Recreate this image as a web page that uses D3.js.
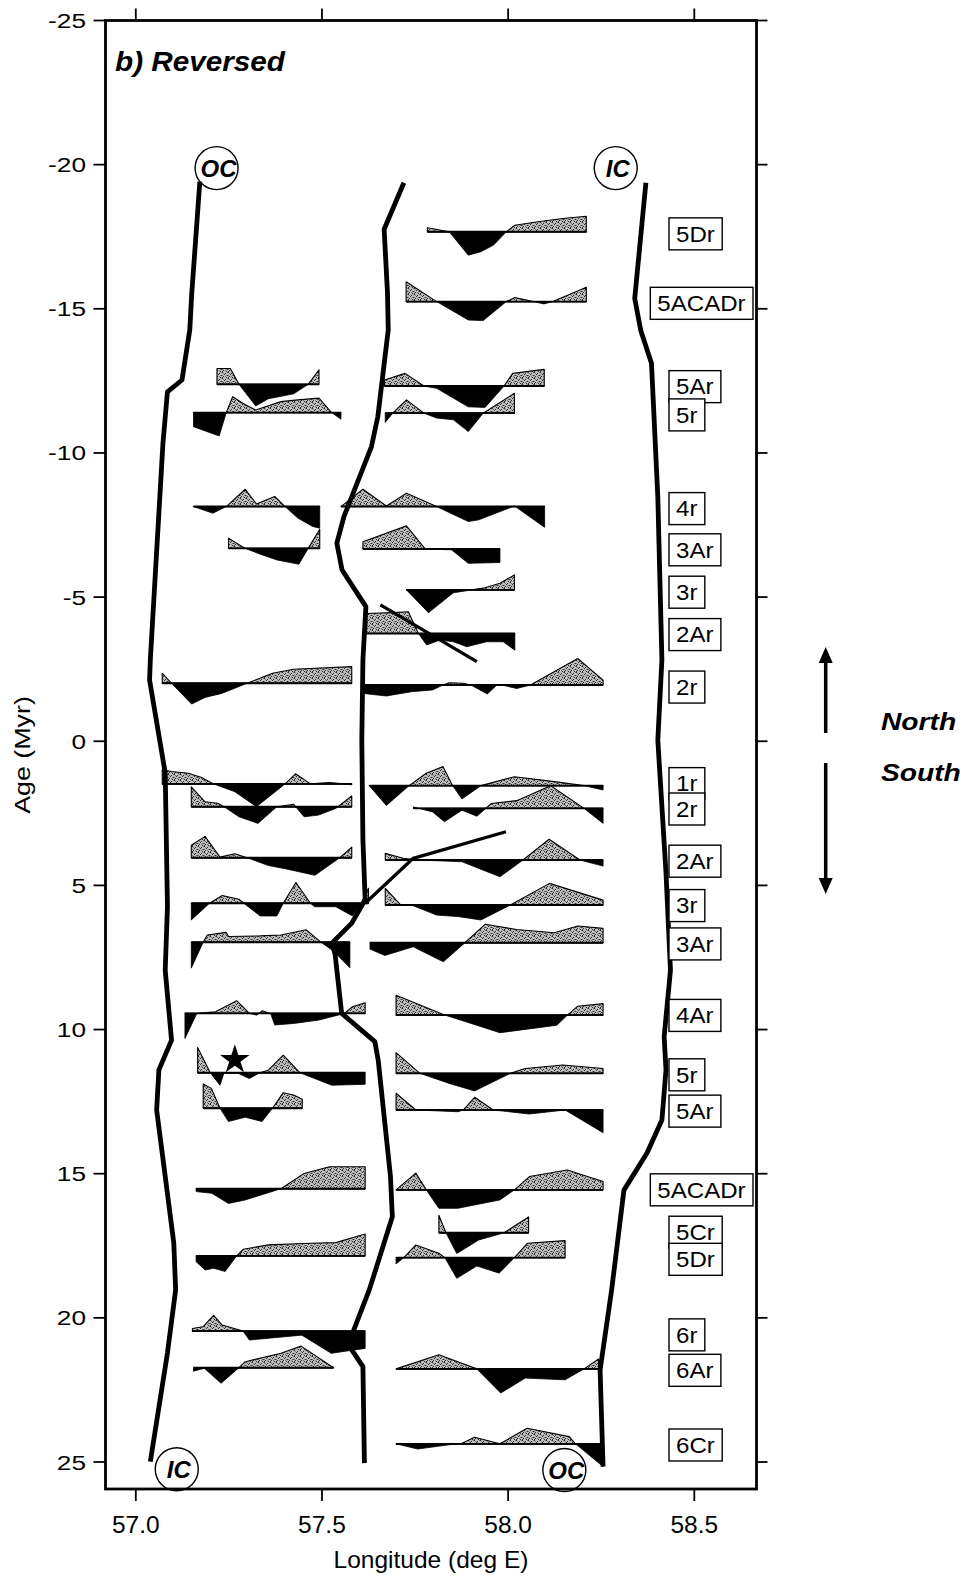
<!DOCTYPE html>
<html><head><meta charset="utf-8">
<script src="https://cdn.jsdelivr.net/npm/d3@7"></script>
<style>body{margin:0;background:#fff;} svg{display:block;}</style>
</head><body>
<svg id="chart" width="970" height="1579"></svg>
<script>
// ---------------- DATA ----------------
const xTicks = [57.0, 57.5, 58.0, 58.5];
const xTickLabels = ["57.0", "57.5", "58.0", "58.5"];
const yTicks = [-25, -20, -15, -10, -5, 0, 5, 10, 15, 20, 25];
const yTickLabels = ["-25", "-20", "-15", "-10", "-5", "0", "5", "10", "15", "20", "25"];

// thick boundary lines [lon, age]
const leftBoundary = [[57.172,-19.41],[57.150,-15.48],[57.145,-14.27],[57.124,-12.53],[57.085,-12.12],[57.073,-10.35],[57.039,-2.82],[57.037,-2.12],[57.079,1.10],[57.085,5.74],[57.079,7.94],[57.096,10.37],[57.062,11.40],[57.056,12.79],[57.102,17.40],[57.107,19.03],[57.085,21.22],[57.039,24.99]];
const middleBoundary = [[57.720,-19.37],[57.667,-17.76],[57.676,-15.54],[57.678,-14.27],[57.650,-11.26],[57.633,-10.22],[57.559,-7.79],[57.540,-6.87],[57.554,-5.94],[57.618,-4.67],[57.610,-2.82],[57.607,-0.04],[57.610,3.43],[57.616,5.50],[57.580,6.31],[57.526,7.01],[57.535,7.36],[57.553,9.44],[57.642,10.42],[57.651,11.06],[57.684,15.10],[57.689,16.49],[57.644,18.34],[57.627,19.03],[57.582,20.54],[57.580,21.11],[57.610,21.69],[57.614,25.04]];
const rightBoundary = [[58.370,-19.37],[58.340,-15.36],[58.356,-14.26],[58.385,-13.11],[58.402,-8.48],[58.413,-2.82],[58.402,-0.04],[58.424,4.57],[58.436,7.94],[58.419,10.25],[58.424,11.40],[58.413,13.14],[58.373,14.28],[58.311,15.57],[58.278,19.03],[58.247,21.81],[58.255,25.16]];
// thinner offset lines
const thinLineA = [[57.657,-4.73],[57.916,-2.76]];
const thinLineB = [[57.994,3.14],[57.745,4.06],[57.616,5.62]];

// magnetic anomaly profiles: baseline ages and [lon, amplitude(Myr units, + = up)]
const profileAges = [-17.67,-15.25,-12.38,-11.40,-12.32,-11.38,-8.14,-8.14,-6.69,-6.67,-5.25,-3.74,-2.01,-1.95,1.48,1.54,2.27,2.33,4.04,4.12,5.62,5.68,6.97,6.99,9.44,9.50,11.50,11.52,12.73,12.79,15.52,15.56,17.05,17.85,17.91,20.46,21.73,21.77,24.37];
const p01 = [[57.783,0.14],[57.842,0],[57.893,-0.81],[57.927,-0.69],[57.961,-0.46],[57.995,0],[58.018,0.23],[58.080,0.35],[58.147,0.46],[58.210,0.54]];
const p02 = [[57.726,0.69],[57.808,0],[57.893,-0.64],[57.933,-0.66],[57.995,0],[58.018,0.14],[58.046,0.06],[58.096,-0.08],[58.120,0],[58.210,0.50]];
const p03 = [[57.218,0.55],[57.254,0.55],[57.277,0],[57.322,-0.75],[57.356,-0.50],[57.424,-0.33],[57.463,0],[57.492,0.50]];
const p04 = [[57.155,-0.49],[57.224,-0.81],[57.243,0],[57.260,0.55],[57.294,0.27],[57.322,0.09],[57.390,0.38],[57.435,0.44],[57.492,0.50],[57.526,0],[57.551,-0.23]];
const p05 = [[57.668,0.21],[57.723,0.44],[57.774,0],[57.808,-0.08],[57.893,-0.72],[57.938,-0.74],[57.989,0],[58.012,0.44],[58.097,0.58]];
const p06 = [[57.670,-0.32],[57.690,0],[57.727,0.46],[57.774,0],[57.808,-0.17],[57.853,-0.23],[57.893,-0.64],[57.933,0],[58.017,0.69]];
const p07 = [[57.155,0],[57.207,-0.23],[57.243,0],[57.294,0.60],[57.324,0.09],[57.373,0.35],[57.401,0],[57.435,-0.40],[57.475,-0.69],[57.494,-0.75]];
const p08 = [[57.551,0],[57.610,0.60],[57.673,0.02],[57.727,0.46],[57.808,0],[57.893,-0.52],[57.921,-0.46],[57.989,-0.12],[58.017,0.02],[58.098,-0.72]];
const p09 = [[57.249,0.35],[57.294,0],[57.334,-0.20],[57.379,-0.40],[57.438,-0.55],[57.463,0],[57.494,0.66]];
const p10 = [[57.610,0.25],[57.727,0.80],[57.777,0],[57.848,-0.03],[57.893,-0.50],[57.978,-0.47]];
const p11 = [[57.727,0],[57.786,-0.79],[57.853,-0.10],[57.933,0.06],[57.978,0.23],[58.017,0.52]];
const p12 = [[57.620,0.69],[57.690,0.72],[57.732,0.75],[57.759,0],[57.781,-0.40],[57.817,-0.23],[57.853,-0.29],[57.889,-0.46],[57.942,-0.29],[57.987,-0.29],[58.018,-0.58]];
const p13 = [[57.071,0.35],[57.096,0],[57.150,-0.72],[57.186,-0.49],[57.231,-0.35],[57.299,0],[57.367,0.35],[57.424,0.49],[57.580,0.58]];
const p14 = [[57.610,-0.29],[57.673,-0.38],[57.741,-0.23],[57.797,-0.17],[57.825,0],[57.842,0.08],[57.880,0.06],[57.900,0],[57.944,-0.31],[57.970,0],[57.990,-0.02],[58.023,-0.12],[58.060,0],[58.187,0.92],[58.255,0.17]];
const p15 = [[57.071,0.49],[57.096,0.43],[57.141,0.37],[57.175,0.23],[57.209,0],[57.266,-0.27],[57.324,-0.79],[57.401,0],[57.429,0.35],[57.469,0],[57.520,0.05],[57.580,-0.03]];
const p16 = [[57.627,0],[57.673,-0.69],[57.734,0],[57.780,0.43],[57.825,0.66],[57.851,0],[57.876,-0.46],[57.927,0],[58.017,0.31],[58.124,0.14],[58.204,0],[58.255,-0.15]];
const p17 = [[57.149,0.69],[57.186,0.17],[57.220,0.12],[57.237,0],[57.277,-0.35],[57.328,-0.58],[57.379,0],[57.424,0.08],[57.452,-0.35],[57.491,-0.29],[57.537,-0.06],[57.580,0.37]];
const p18 = [[57.746,0.05],[57.797,-0.12],[57.829,-0.46],[57.876,-0.06],[57.916,-0.27],[57.955,0.17],[58.023,0.27],[58.114,0.79],[58.204,0],[58.255,-0.52]];
const p19 = [[57.149,0.43],[57.186,0.74],[57.226,0.02],[57.266,0.14],[57.299,0],[57.356,-0.27],[57.401,-0.38],[57.481,-0.61],[57.548,0],[57.580,0.37]];
const p20 = [[57.670,0.23],[57.718,0.06],[57.760,0],[57.876,-0.06],[57.978,-0.58],[58.040,0],[58.110,0.72],[58.193,0],[58.255,-0.21]];
const p21 = [[57.149,-0.58],[57.198,0],[57.232,0.27],[57.277,0.14],[57.290,0],[57.334,-0.44],[57.379,-0.44],[57.396,0],[57.430,0.72],[57.469,0],[57.480,-0.12],[57.537,-0.12],[57.582,-0.44],[57.605,0],[57.625,0.52]];
const p22 = [[57.670,0.58],[57.712,0],[57.740,0],[57.808,-0.35],[57.865,-0.40],[57.927,-0.52],[58.006,0],[58.111,0.75],[58.255,0.17]];
const p23 = [[57.149,-0.90],[57.181,0],[57.192,0.25],[57.243,0.34],[57.249,0.20],[57.334,0.22],[57.390,0.25],[57.458,0.43],[57.497,0],[57.530,-0.30],[57.575,-0.89]];
const p24 = [[57.629,-0.22],[57.669,-0.44],[57.745,-0.14],[57.826,-0.66],[57.884,0],[57.938,0.64],[58.023,0.46],[58.124,0.35],[58.187,0.58],[58.255,0.50]];
const p25 = [[57.132,-0.87],[57.164,0],[57.214,0.06],[57.271,0.44],[57.305,0],[57.325,-0.06],[57.339,0.09],[57.362,0],[57.373,-0.40],[57.424,-0.35],[57.492,-0.23],[57.543,-0.06],[57.560,0],[57.582,0.23],[57.616,0.37]];
const p26 = [[57.699,0.69],[57.831,0],[57.978,-0.61],[58.131,-0.35],[58.159,0],[58.187,0.31],[58.255,0.40]];
const p27 = [[57.166,0.88],[57.200,0],[57.226,-0.43],[57.237,0],[57.249,-0.02],[57.275,-0.02],[57.305,-0.20],[57.333,0],[57.356,0.09],[57.396,0.61],[57.441,0],[57.526,-0.43],[57.616,-0.40]];
const p28 = [[57.699,0.72],[57.763,0],[57.842,-0.35],[57.910,-0.61],[58.006,0],[58.046,0.17],[58.147,0.29],[58.255,0.17]];
const p29 = [[57.181,0.84],[57.203,0.69],[57.226,0],[57.249,-0.46],[57.294,-0.31],[57.339,-0.46],[57.367,0],[57.396,0.54],[57.424,0.46],[57.447,0.31]];
const p30 = [[57.699,0.58],[57.752,0],[57.865,-0.06],[57.880,0],[57.910,0.44],[57.960,0],[58.057,-0.14],[58.153,0],[58.255,-0.79]];
const p31 = [[57.162,-0.10],[57.204,-0.16],[57.249,-0.51],[57.294,-0.39],[57.390,0],[57.452,0.53],[57.520,0.76],[57.616,0.76]];
const p32 = [[57.699,0],[57.752,0.58],[57.780,0],[57.814,-0.64],[57.865,-0.64],[57.978,-0.35],[58.017,0],[58.057,0.46],[58.159,0.69],[58.255,0.29]];
const p33 = [[57.814,0.61],[57.833,0],[57.862,-0.72],[57.921,-0.25],[57.989,0],[58.055,0.55]];
const p34 = [[57.162,-0.20],[57.186,-0.49],[57.209,-0.43],[57.240,-0.54],[57.271,0],[57.289,0.23],[57.356,0.38],[57.469,0.44],[57.537,0.46],[57.616,0.76]];
const p35 = [[57.699,-0.22],[57.720,0],[57.752,0.44],[57.814,0.15],[57.830,0],[57.862,-0.72],[57.916,-0.29],[57.976,-0.54],[58.017,0],[58.052,0.50],[58.153,0.59]];
const p36 = [[57.152,0.09],[57.180,0.15],[57.209,0.55],[57.232,0.21],[57.288,0],[57.305,-0.31],[57.446,-0.14],[57.525,-0.77],[57.582,-0.66],[57.616,-0.60]];
const p37 = [[57.155,-0.12],[57.184,-0.02],[57.229,-0.54],[57.277,0],[57.294,0.21],[57.390,0.50],[57.444,0.75],[57.531,0]];
const p38 = [[57.699,0],[57.814,0.49],[57.916,0],[57.980,-0.84],[58.046,-0.32],[58.153,-0.38],[58.204,0],[58.243,0.34]];
const p39 = [[57.699,0],[57.757,-0.18],[57.860,0],[57.876,0.02],[57.910,0.23],[57.978,0],[58.051,0.54],[58.164,0.25],[58.181,0],[58.255,-0.79]];
const profilePoints = [p01,p02,p03,p04,p05,p06,p07,p08,p09,p10,p11,p12,p13,p14,p15,p16,p17,p18,p19,p20,p21,p22,p23,p24,p25,p26,p27,p28,p29,p30,p31,p32,p33,p34,p35,p36,p37,p38,p39];

// chron labels on the right
const chronLabels = ["5Dr","5ACADr","5Ar","5r","4r","3Ar","3r","2Ar","2r","1r","2r","2Ar","3r","3Ar","4Ar","5r","5Ar","5ACADr","5Cr","5Dr","6r","6Ar","6Cr"];
const chronAges = [-17.60,-15.19,-12.30,-11.32,-8.07,-6.64,-5.17,-3.70,-1.88,1.47,2.35,4.16,5.70,7.03,9.51,11.57,12.83,15.56,17.03,17.97,20.59,21.82,24.41];

// circled segment-end markers
const markerTexts = ["OC","IC","IC","OC"];
const markerLon = [57.217, 58.289, 57.110, 58.151];
const markerAge = [-19.88, -19.88, 25.25, 25.28];
const starPoint = [57.266, 11.05];

// ---------------- DRAW ----------------
const svg = d3.select("#chart");
const x = d3.scaleLinear().domain([57.0, 58.5]).range([135.8, 694.3]);
const y = d3.scaleLinear().domain([-25, 25]).range([20.5, 1462]);
const fL = 105.5, fR = 756.5, fT = 20.5, fB = 1489;
const FONT = "'Liberation Sans', Arial, Helvetica, sans-serif";

svg.append("rect").attr("width", 970).attr("height", 1579).attr("fill", "#fff");

const defs = svg.append("defs");
const pat = defs.append("pattern").attr("id", "stip").attr("patternUnits", "userSpaceOnUse").attr("width", 6).attr("height", 6);
pat.append("rect").attr("width", 6).attr("height", 6).attr("fill", "#bdbdbd");
[[0,0],[3,1],[5,3],[1,4],[4,5],[2,2],[0,5]].forEach(d => pat.append("rect").attr("x", d[0]).attr("y", d[1]).attr("width", 1).attr("height", 1).attr("fill", "#2e2e2e"));
[[1,1],[4,3],[0,3],[5,0],[3,4]].forEach(d => pat.append("rect").attr("x", d[0]).attr("y", d[1]).attr("width", 1).attr("height", 1).attr("fill", "#777"));

function stext(g, tx, ty, str, opts) {
  const sx = opts.sx || 1;
  const t = g.append("text")
    .attr("transform", `translate(${tx},${ty}) ${opts.rot ? "rotate(" + opts.rot + ")" : ""} scale(${sx},1)`)
    .attr("font-family", FONT).attr("font-size", opts.size)
    .attr("font-weight", opts.weight || "normal").attr("font-style", opts.style || "normal")
    .attr("text-anchor", opts.anchor || "start").attr("fill", "#000").text(str);
  return t;
}

// profiles
function withCrossings(pts) {
  const out = [];
  pts.forEach((p, i) => {
    if (i > 0) {
      const q = pts[i - 1];
      if ((q[1] > 0 && p[1] < 0) || (q[1] < 0 && p[1] > 0)) {
        const t = q[1] / (q[1] - p[1]);
        out.push([q[0] + t * (p[0] - q[0]), 0]);
      }
    }
    out.push(p);
  });
  return out;
}
const gProf = svg.append("g");
profilePoints.forEach((pts, i) => {
  const age = profileAges[i];
  const pp = withCrossings(pts);
  const pos = d3.area().x(d => x(d[0])).y0(y(age)).y1(d => y(age - Math.max(d[1], 0)));
  const neg = d3.area().x(d => x(d[0])).y0(y(age)).y1(d => y(age - Math.min(d[1], 0)));
  gProf.append("path").attr("d", pos(pp)).attr("fill", "url(#stip)").attr("stroke", "#000").attr("stroke-width", 1.1).attr("stroke-linejoin", "round");
  gProf.append("path").attr("d", neg(pp)).attr("fill", "#000").attr("stroke", "#000").attr("stroke-width", 0.8);
  gProf.append("line").attr("x1", x(pts[0][0])).attr("x2", x(pts[pts.length - 1][0]))
    .attr("y1", y(age)).attr("y2", y(age)).attr("stroke", "#000").attr("stroke-width", 1.9);
});

// boundary lines
const lineGen = d3.line().x(d => x(d[0])).y(d => y(d[1]));
[leftBoundary, middleBoundary, rightBoundary].forEach(l => {
  svg.append("path").attr("d", lineGen(l)).attr("fill", "none").attr("stroke", "#000")
    .attr("stroke-width", 4.8).attr("stroke-linejoin", "round");
});
[thinLineA, thinLineB].forEach(l => {
  svg.append("path").attr("d", lineGen(l)).attr("fill", "none").attr("stroke", "#000")
    .attr("stroke-width", 3.3).attr("stroke-linejoin", "round");
});

// star
const star = d3.symbol().type(d3.symbolStar).size(270);
svg.append("path").attr("d", star()).attr("transform", `translate(${x(starPoint[0])},${y(starPoint[1])})`).attr("fill", "#000");

// frame
svg.append("rect").attr("x", fL).attr("y", fT).attr("width", fR - fL).attr("height", fB - fT)
  .attr("fill", "none").attr("stroke", "#000").attr("stroke-width", 2.8);

// ticks
const gAx = svg.append("g").attr("stroke", "#000").attr("stroke-width", 1.8);
xTicks.forEach(v => {
  gAx.append("line").attr("x1", x(v)).attr("x2", x(v)).attr("y1", fT).attr("y2", fT - 12);
  gAx.append("line").attr("x1", x(v)).attr("x2", x(v)).attr("y1", fB).attr("y2", fB + 12);
});
yTicks.forEach(v => {
  gAx.append("line").attr("x1", fL).attr("x2", fL - 12).attr("y1", y(v)).attr("y2", y(v));
  gAx.append("line").attr("x1", fR).attr("x2", fR + 11).attr("y1", y(v)).attr("y2", y(v));
});
const gTxt = svg.append("g");
xTicks.forEach((v, i) => stext(gTxt, x(v), 1533, xTickLabels[i], {size: 24.5, anchor: "middle"}));
yTicks.forEach((v, i) => stext(gTxt, 86, y(v) + 7.5, yTickLabels[i], {size: 20.5, anchor: "end", sx: 1.28}));
stext(gTxt, 431, 1568, "Longitude (deg E)", {size: 24.5, anchor: "middle"});
stext(gTxt, 30, 755, "Age (Myr)", {size: 22, anchor: "middle", rot: -90, sx: 1.22});
stext(gTxt, 115, 71, "b) Reversed", {size: 27, weight: "bold", style: "italic", sx: 1.1});

// chron labels with boxes
chronLabels.forEach((lab, i) => {
  const cy = y(chronAges[i]);
  const g = svg.append("g");
  const t = stext(g, 0, 0, lab, {size: 21.5, sx: 1.12});
  const w = t.node().getBBox().width * 1.12;
  let bx = 669, bw = w + 14;
  if (bx + bw > 753) bx = 753 - bw;
  t.attr("transform", `translate(${bx + 7},${cy + 7.8}) scale(1.12,1)`);
  g.insert("rect", "text").attr("x", bx).attr("y", cy - 16).attr("width", bw).attr("height", 32)
    .attr("fill", "#fff").attr("stroke", "#000").attr("stroke-width", 1.4);
});

// OC / IC circles
markerTexts.forEach((m, i) => {
  const cx = x(markerLon[i]), cy = y(markerAge[i]);
  svg.append("circle").attr("cx", cx).attr("cy", cy).attr("r", 21.5).attr("fill", "none").attr("stroke", "#000").attr("stroke-width", 1.4);
  stext(svg, cx + 2, cy + 8.5, m, {size: 24, weight: "bold", style: "italic", anchor: "middle"});
});

// North / South arrows
const ax = 825.7;
svg.append("line").attr("x1", ax).attr("x2", ax).attr("y1", 733).attr("y2", 660).attr("stroke", "#000").attr("stroke-width", 3.5);
svg.append("path").attr("d", `M${ax},647 L${ax - 7},663 L${ax + 7},663 Z`).attr("fill", "#000");
svg.append("line").attr("x1", ax).attr("x2", ax).attr("y1", 763).attr("y2", 880).attr("stroke", "#000").attr("stroke-width", 3.5);
svg.append("path").attr("d", `M${ax},894 L${ax - 7},878 L${ax + 7},878 Z`).attr("fill", "#000");
stext(svg, 881, 730, "North", {size: 23.5, weight: "bold", style: "italic", sx: 1.2});
stext(svg, 881, 781, "South", {size: 23.5, weight: "bold", style: "italic", sx: 1.2});
</script>
</body></html>
